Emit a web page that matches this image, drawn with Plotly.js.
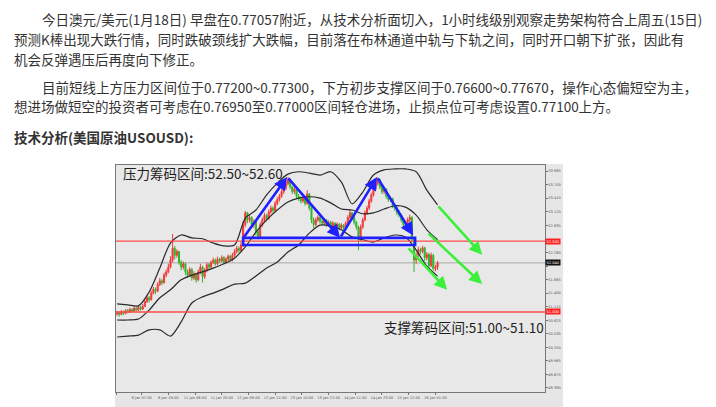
<!DOCTYPE html>
<html>
<head>
<meta charset="utf-8">
<script src="https://cdn.plot.ly/plotly-3.0.1.min.js"></script>
<style>
  html, body { margin:0; padding:0; background:#fff; width:716px; height:407px; overflow:hidden; }
  .p { position:absolute; white-space:nowrap; font-family:"Noto Sans CJK SC","Noto Sans",sans-serif; font-size:13.5px; line-height:20px; color:#333; }
  .b { font-weight:bold; }
  #chart { position:absolute; left:115px; top:164px; width:448px; height:243px; }
</style>
</head>
<body>
<div class="p" style="left:42px;top:9px">今日澳元/美元(1月18日) 早盘在0.77057附近，从技术分析面切入，1小时线级别观察走势架构符合上周五(15日)</div>
<div class="p" style="left:14px;top:29px">预测K棒出现大跌行情，同时跌破颈线扩大跌幅，目前落在布林通道中轨与下轨之间，同时开口朝下扩张，因此有</div>
<div class="p" style="left:14px;top:49px">机会反弹遇压后再度向下修正。</div>
<div class="p" style="left:42px;top:77px">目前短线上方压力区间位于0.77200~0.77300，下方初步支撑区间于0.76600~0.77670，操作心态偏短空为主，</div>
<div class="p" style="left:14px;top:96px">想进场做短空的投资者可考虑在0.76950至0.77000区间轻仓进场，止损点位可考虑设置0.77100上方。</div>
<div class="p b" style="left:14px;top:127px">技术分析(美国原油USOUSD):</div>
<div id="chart"></div>
<script>
// ---- candle data (H1 bars, oldest first) ----
const openP = [50.96,50.98,50.95,51.00,50.97,51.03,51.00,51.05,51.02,51.08,51.04,51.10,51.06,51.12,51.22,51.30,51.26,51.40,51.48,51.44,
51.58,51.66,51.62,51.78,51.85,51.95,52.10,52.35,52.20,52.28,52.05,51.95,52.02,51.85,51.78,51.90,51.72,51.80,51.68,51.85,
51.95,51.75,51.88,52.00,51.95,52.05,52.10,52.02,52.12,52.08,52.15,52.05,52.12,52.18,52.10,52.20,52.28,52.35,52.30,52.42,
52.85,53.10,52.95,53.00,52.85,52.90,52.70,52.60,52.85,52.95,53.05,52.98,53.12,53.20,53.15,53.30,53.38,53.45,53.55,53.62,
53.72,53.80,53.65,53.55,53.60,53.45,53.40,53.35,53.42,53.30,53.50,53.20,52.95,52.85,52.95,53.00,52.92,52.88,52.95,52.85,
52.90,52.82,52.88,52.80,52.86,52.78,52.84,52.78,52.88,53.00,53.10,53.00,52.90,52.80,52.55,52.80,52.95,53.10,53.20,53.35,
53.48,53.60,53.72,53.80,53.65,53.55,53.60,53.45,53.38,53.40,53.25,53.20,53.10,53.05,52.95,52.85,52.80,52.95,53.00,52.55,
52.10,52.20,52.32,52.28,52.36,52.15,52.22,51.98,52.20,51.92,51.95];
const highP = [51.02,51.01,51.04,51.03,51.06,51.07,51.09,51.08,51.12,51.10,51.15,51.13,51.17,51.26,51.35,51.34,51.45,51.53,51.52,51.63,
51.72,51.70,51.83,51.90,52.02,52.18,52.65,52.40,52.33,52.30,52.10,52.07,52.05,51.90,51.95,51.93,51.86,51.83,51.90,52.02,
51.98,51.93,52.05,52.04,52.09,52.15,52.13,52.17,52.15,52.20,52.18,52.16,52.22,52.21,52.25,52.33,52.40,52.39,52.48,52.92,
53.14,53.12,53.06,53.03,52.96,52.93,52.75,52.90,53.00,53.10,53.08,53.17,53.25,53.24,53.35,53.43,53.50,53.60,53.68,53.77,
53.86,53.82,53.68,53.65,53.62,53.50,53.45,53.46,53.44,53.58,53.52,53.24,53.00,53.00,53.05,53.03,52.96,52.99,52.97,52.94,
52.93,52.92,52.90,52.90,52.88,52.88,52.86,52.92,53.05,53.16,53.12,53.03,52.93,52.83,52.85,53.00,53.15,53.25,53.40,53.53,
53.65,53.78,53.85,53.82,53.68,53.65,53.62,53.50,53.45,53.42,53.30,53.23,53.15,53.08,52.99,52.90,53.00,53.06,53.03,52.58,
52.26,52.38,52.36,52.40,52.38,52.27,52.25,52.26,52.23,52.00,52.08];
const lowP = [50.92,50.90,50.93,50.93,50.95,50.97,50.98,50.99,51.00,51.01,51.02,51.03,51.04,51.10,51.19,51.20,51.24,51.37,51.38,51.42,
51.55,51.57,51.60,51.74,51.82,51.92,52.05,52.12,52.15,52.00,51.88,51.90,51.78,51.72,51.74,51.66,51.68,51.62,51.65,51.80,
51.62,51.70,51.84,51.90,51.92,52.01,51.98,51.99,52.04,52.05,52.01,52.02,52.08,52.06,52.07,52.16,52.24,52.25,52.27,52.38,
52.80,52.88,52.90,52.80,52.78,52.62,52.54,52.57,52.80,52.90,52.92,52.95,53.08,53.10,53.12,53.26,53.34,53.42,53.50,53.58,
53.68,53.60,53.50,53.50,53.40,53.35,53.30,53.31,53.25,53.27,53.15,52.88,52.78,52.82,52.91,52.87,52.83,52.85,52.80,52.81,
52.77,52.79,52.75,52.76,52.73,52.75,52.72,52.75,52.85,52.96,52.95,52.85,52.74,52.31,52.50,52.76,52.92,53.06,53.16,53.31,
53.44,53.56,53.68,53.60,53.50,53.50,53.40,53.33,53.33,53.20,53.14,53.05,53.00,52.90,52.80,52.74,52.77,52.90,52.48,51.85,
52.02,52.16,52.22,52.24,52.08,52.10,51.92,51.95,51.88,51.86,51.89];
const closeP = [50.98,50.95,51.00,50.97,51.03,51.00,51.05,51.02,51.08,51.04,51.10,51.06,51.12,51.22,51.30,51.26,51.40,51.48,51.44,51.58,
51.66,51.62,51.78,51.85,51.95,52.10,52.35,52.20,52.28,52.05,51.95,52.02,51.85,51.78,51.90,51.72,51.80,51.68,51.85,51.95,
51.75,51.88,52.00,51.95,52.05,52.10,52.02,52.12,52.08,52.15,52.05,52.12,52.18,52.10,52.20,52.28,52.35,52.30,52.42,52.85,
53.10,52.95,53.00,52.85,52.90,52.70,52.60,52.85,52.95,53.05,52.98,53.12,53.20,53.15,53.30,53.38,53.45,53.55,53.62,53.72,
53.80,53.65,53.55,53.60,53.45,53.40,53.35,53.42,53.30,53.50,53.20,52.95,52.85,52.95,53.00,52.92,52.88,52.95,52.85,52.90,
52.82,52.88,52.80,52.86,52.78,52.84,52.78,52.88,53.00,53.10,53.00,52.90,52.80,52.55,52.80,52.95,53.10,53.20,53.35,53.48,
53.60,53.72,53.80,53.65,53.55,53.60,53.45,53.38,53.40,53.25,53.20,53.10,53.05,52.95,52.85,52.80,52.95,53.00,52.55,52.10,
52.20,52.32,52.28,52.36,52.15,52.22,51.98,52.20,51.92,51.95,52.04];

// ---- Bollinger bands, read every 5 bars ----
const bandBar = [0,5,10,15,20,25,30,35,40,45,50,55,60,65,70,75,80,85,90,95,100,105,110,115,120,125,130,135,140,145,150];
const bandUpper = [51.17,51.15,51.13,51.42,51.93,52.46,52.63,52.57,52.55,52.46,52.40,52.42,52.99,53.16,53.48,53.73,53.92,53.97,53.94,53.90,53.97,53.75,53.29,53.54,53.90,54.01,54.03,54.03,53.97,53.58,53.27];
const bandMiddle = [50.83,50.83,50.85,51.04,51.30,51.47,51.68,51.78,51.85,51.93,52.02,52.14,52.38,52.69,52.95,53.16,53.33,53.41,53.44,53.41,53.31,53.18,53.16,53.08,53.10,53.18,53.25,53.22,53.05,52.74,52.53];
const bandLower = [50.47,50.49,50.51,50.62,50.62,50.49,50.79,51.19,51.32,51.40,51.49,51.59,51.61,51.76,51.93,52.06,52.27,52.42,52.67,52.84,52.82,52.74,52.59,52.53,52.48,52.57,52.63,52.59,52.31,51.97,51.76];

// ---- levels ----
const resistanceLevel = 52.50;
const supportLevel = 51.00;
const lastPrice = 52.04;

// ---- head & shoulders style path (bar, price) ----
const patternBar = [59, 79.6, 104.4, 121.7, 138.6];
const patternPrice = [52.56, 53.86, 52.57, 53.86, 52.62];
const neckBoxBar = [59, 139.5];
const neckBoxPrice = [52.42, 52.57];

// ---- projected downward arrows (from -> to) ----
const greenFromBar = [149.8, 145.1, 135.8];
const greenFromPrice = [53.27, 52.69, 52.38];
const greenToBar = [170.9, 170.9, 154.5];
const greenToPrice = [52.21, 51.59, 51.47];

// ---- axis labels ----
const xTickLabels = ['7 Jan 19:00','8 Jan 07:00','8 Jan 19:00','11 Jan 08:00','11 Jan 20:00','12 Jan 09:00','12 Jan 21:00','13 Jan 10:00','13 Jan 22:00','14 Jan 11:00','14 Jan 23:00','15 Jan 12:00','18 Jan 01:00'];
const yTickValues = [49.390,49.675,49.965,50.250,50.535,50.825,51.115,51.400,51.685,51.970,52.260,52.545,52.835,53.120,53.410,53.700,53.985];
// labels hidden behind the coloured price tags in the reference are left blank
const yTickLabels = ['49.390','49.675','49.965','50.250','50.535','50.825','51.115','51.400','51.685','','52.260','','52.835','53.120','53.410','53.700','53.985'];

const barIdx = closeP.map((_, i) => i);
const xTickVals = xTickLabels.map((_, k) => Math.max(-0.45, 11.5 + 12.5 * (k - 1)));

const traces = [
  {
    type: 'candlestick', x: barIdx, open: openP, high: highP, low: lowP, close: closeP,
    increasing: { line: { color: '#f23a3a', width: 1 }, fillcolor: '#f23a3a' },
    decreasing: { line: { color: '#2fb52f', width: 1 }, fillcolor: '#2fb52f' },
    whiskerwidth: 0, hoverinfo: 'skip'
  },
  { type: 'scatter', mode: 'lines', x: bandBar, y: bandUpper, line: { color: '#2a2a2a', width: 1.2, shape: 'spline', smoothing: 0.8 }, hoverinfo: 'skip' },
  { type: 'scatter', mode: 'lines', x: bandBar, y: bandMiddle, line: { color: '#2a2a2a', width: 1.2, shape: 'spline', smoothing: 0.8 }, hoverinfo: 'skip' },
  { type: 'scatter', mode: 'lines', x: bandBar, y: bandLower, line: { color: '#2a2a2a', width: 1.2, shape: 'spline', smoothing: 0.8 }, hoverinfo: 'skip' }
];

const annotations = [];
for (let j = 0; j < patternBar.length - 1; j++) {
  annotations.push({
    x: patternBar[j + 1], y: patternPrice[j + 1], xref: 'x', yref: 'y',
    ax: patternBar[j], ay: patternPrice[j], axref: 'x', ayref: 'y',
    text: '', showarrow: true, arrowhead: 2, arrowsize: 1, arrowwidth: 2.6, arrowcolor: '#1f1fff'
  });
}
for (let j = 0; j < greenFromBar.length; j++) {
  annotations.push({
    x: greenToBar[j], y: greenToPrice[j], xref: 'x', yref: 'y',
    ax: greenFromBar[j], ay: greenFromPrice[j], axref: 'x', ayref: 'y',
    text: '', showarrow: true, arrowhead: 2, arrowsize: 1, arrowwidth: 2.6, arrowcolor: '#3bef3b'
  });
}
annotations.push(
  { x: 1.9, y: 53.944, xref: 'x', yref: 'y', xanchor: 'left', yanchor: 'middle', showarrow: false,
    text: '压力筹码区间:52.50~52.60', font: { family: 'Noto Sans CJK SC', size: 13.5, color: '#1e1e1e' } },
  { x: 124.1, y: 50.68, xref: 'x', yref: 'y', xanchor: 'left', yanchor: 'middle', showarrow: false,
    text: '支撑筹码区间:51.00~51.10', font: { family: 'Noto Sans CJK SC', size: 13.5, color: '#1e1e1e' } },
  { x: 1, y: resistanceLevel, xref: 'paper', yref: 'y', xanchor: 'left', yanchor: 'middle', showarrow: false,
    text: resistanceLevel.toFixed(3), bgcolor: '#ff2020', borderpad: 0.5, font: { size: 3.6, color: '#fff' } },
  { x: 1, y: supportLevel, xref: 'paper', yref: 'y', xanchor: 'left', yanchor: 'middle', showarrow: false,
    text: supportLevel.toFixed(3), bgcolor: '#ff2020', borderpad: 0.5, font: { size: 3.6, color: '#fff' } },
  { x: 1, y: lastPrice, xref: 'paper', yref: 'y', xanchor: 'left', yanchor: 'middle', showarrow: false,
    text: lastPrice.toFixed(3), bgcolor: '#111', borderpad: 0.5, font: { size: 3.6, color: '#fff' } }
);

const shapes = [
  { type: 'line', xref: 'paper', x0: 0, x1: 1, yref: 'y', y0: lastPrice, y1: lastPrice, line: { color: '#a8a8a8', width: 1 }, layer: 'below' },
  { type: 'line', xref: 'paper', x0: 0, x1: 1, yref: 'y', y0: resistanceLevel, y1: resistanceLevel, line: { color: '#ff4a4a', width: 1.4 } },
  { type: 'line', xref: 'paper', x0: 0, x1: 1, yref: 'y', y0: supportLevel, y1: supportLevel, line: { color: '#ff4a4a', width: 1.4 } },
  { type: 'rect', xref: 'x', yref: 'y', x0: neckBoxBar[0], x1: neckBoxBar[1], y0: neckBoxPrice[0], y1: neckBoxPrice[1], line: { color: '#1f1fff', width: 2.6 } }
];

const layout = {
  width: 448, height: 243,
  margin: { l: 1, r: 18, t: 1, b: 15, pad: 0 },
  paper_bgcolor: '#e6e6e6', plot_bgcolor: '#e8e8e8',
  showlegend: false, hovermode: false,
  font: { family: 'DejaVu Sans, sans-serif' },
  xaxis: {
    range: [-0.5, 200.3], rangeslider: { visible: false }, type: 'linear',
    tickvals: xTickVals, ticktext: xTickLabels, tickangle: 0, tickfont: { size: 3.6, color: '#555' },
    ticks: 'outside', ticklen: 2, tickcolor: '#777',
    showgrid: false, zeroline: false, showline: true, linecolor: '#777', linewidth: 1, mirror: true
  },
  yaxis: {
    range: [49.305, 54.113], side: 'right',
    tickvals: yTickValues, ticktext: yTickLabels, tickfont: { size: 3.6, color: '#555' },
    ticks: 'outside', ticklen: 1.5, tickcolor: '#777',
    showgrid: false, zeroline: false, showline: true, linecolor: '#777', linewidth: 1, mirror: true
  },
  annotations: annotations,
  shapes: shapes
};

Plotly.newPlot('chart', traces, layout, { staticPlot: true, displayModeBar: false });
</script>
</body>
</html>
